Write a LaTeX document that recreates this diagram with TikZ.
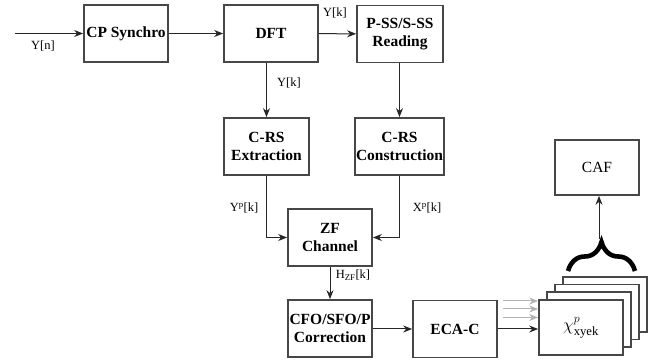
\documentclass[tikz,border=0pt]{standalone}
\usepackage{fontspec}
\setmainfont{Liberation Serif}
\usetikzlibrary{arrows.meta,decorations.pathreplacing}

\begin{document}
\begin{tikzpicture}[x=1pt,y=-1pt,
  block/.style={draw=black!72, line width=1.7pt, fill=white, inner sep=1pt,
    minimum width=84pt, minimum height=57pt, align=center,
    font=\fontsize{15.5}{18}\selectfont\bfseries},
  plainblock/.style={block, font=\fontsize{15.5}{18}\selectfont},
  lbl/.style={inner sep=0pt, font=\fontsize{12.5}{14}\selectfont},
  flow/.style={draw=black!85, line width=1pt, -{Stealth[length=9pt,width=7pt]}},
  ghost/.style={draw=black!30, line width=1pt, -{Stealth[length=9pt,width=7pt]}}]

\useasboundingbox (0,0) rectangle (654,363);

% processing chain
\node[block] (cp)  at (126,33.5) {CP Synchro};
\node[block, minimum width=94pt] (dft) at (271,33.5) {DFT};
\node[block, minimum width=86pt] (pss) at (400,34) {P-SS/S-SS\\Reading};
\node[block, minimum width=85pt] (ext) at (266.5,146.5) {C-RS\\Extraction};
\node[block, minimum width=85pt] (con) at (399.5,146.5) {C-RS\\Construction};
\node[block, minimum height=57pt] (zf)  at (330,237.5) {ZF\\Channel};
\node[block] (cfo) at (330,328.5) {CFO/SFO/P\\Correction};
\node[block] (eca) at (455,329) {ECA-C};

% stack of ambiguity maps
\node[plainblock, minimum height=55pt] (m3) at (605,304.4) {};
\node[plainblock, minimum height=55pt] (m2) at (597,312.1) {};
\node[plainblock, minimum height=55pt] (m1) at (589,319.8) {};
\node[plainblock, minimum height=55pt] (m0) at (581,327.5) {\fontsize{18}{18}\selectfont$\chi^{p}_{\mathrm{xyek}}$};

\node[plainblock, minimum height=55pt] (caf) at (597,167.5) {CAF};

% input
\coordinate (in) at (15,33.5);
\draw[flow] (in) -- (cp.west);
\node[lbl] (yn) at (43,46) {Y[n]};

% main connectors
\draw[flow] (cp) -- (dft);
\draw[flow] (dft) -- (pss);
\node[lbl] (yk1) at (335,13) {Y[k]};
\draw[flow] (ext.north |- dft.south) -- (ext.north);
\node[lbl] (yk2) at (289,83) {Y[k]};
\draw[flow] (pss.south -| con.north) -- (con.north);
\draw[flow] (ext.south) |- (zf.west);
\node[lbl] (yp) at (244,208) {Y\textsuperscript{p}[k]};
\draw[flow] (con.south) |- (zf.east);
\node[lbl] (xp) at (427,208) {X\textsuperscript{p}[k]};
\draw[flow] (zf.south -| cfo.north) -- (cfo.north);
\node[lbl] (hzf) at (353,275) {H\textsubscript{ZF}[k]};
\draw[flow] (cfo.east |- eca.west) -- (eca.west);
\draw[flow] (eca.east) -- (eca.east -| m0.west);

% faded inputs to the maps behind
\coordinate (g1) at (503,301);
\coordinate (g2) at (503,309);
\coordinate (g3) at (503,317.5);
\draw[ghost] (g1) -- (g1 -| m0.west);
\draw[ghost] (g2) -- (g2 -| m0.west);
\draw[ghost] (g3) -- (g3 -| m0.west);

% brace gathering the maps into the CAF
\coordinate (bl) at (568,271);
\coordinate (br) at (635,271);
\coordinate (tip) at (599,239);
\draw[line width=4.6pt, decorate, decoration={brace, amplitude=29pt}] (bl) -- (br);
\draw[flow] (tip) -- (tip |- caf.south);
\end{tikzpicture}
\end{document}
